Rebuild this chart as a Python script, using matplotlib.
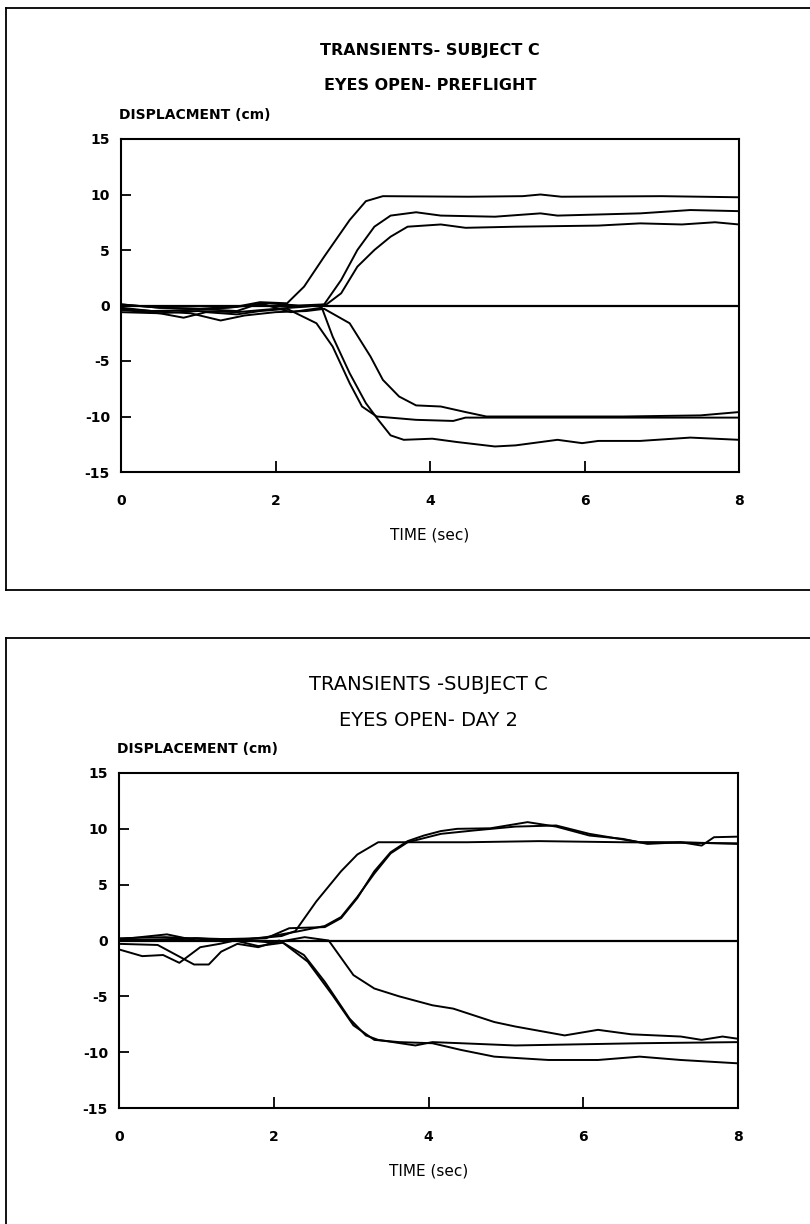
import matplotlib
matplotlib.use('Agg')
import matplotlib.pyplot as plt
from matplotlib.lines import Line2D

# ---- data (time in sec, displacement in cm) ----
# preflight panel
pre_a_t = [0, 0.5, 1.0, 1.5, 1.8, 2.15, 2.37, 2.63, 2.96, 3.17, 3.39, 4.5, 5.2, 5.43, 5.7, 7.0, 8.0]
pre_a_v = [0.1, -0.2, -0.3, -0.1, 0.3, 0.2, 1.7, 4.4, 7.7, 9.4, 9.85, 9.8, 9.85, 10.0, 9.8, 9.85, 9.75]
pre_b_t = [0, 0.4, 0.9, 1.4, 1.9, 2.3, 2.63, 2.85, 3.06, 3.28, 3.49, 3.82, 4.14, 4.84, 5.43, 5.65, 6.72, 7.37, 8.0]
pre_b_v = [-0.3, -0.5, -0.4, -0.2, 0.2, 0.0, 0.1, 2.3, 5.0, 7.1, 8.1, 8.4, 8.1, 8.0, 8.3, 8.1, 8.3, 8.6, 8.5]
pre_c_t = [0, 0.5, 1.0, 1.5, 2.0, 2.4, 2.66, 2.85, 3.06, 3.28, 3.49, 3.71, 4.14, 4.46, 5.11, 6.18, 6.72, 7.26, 7.69, 8.0]
pre_c_v = [-0.6, -0.7, -0.5, -0.6, -0.3, -0.1, 0.1, 1.1, 3.5, 5.0, 6.2, 7.1, 7.3, 7.0, 7.1, 7.2, 7.4, 7.3, 7.5, 7.3]
pre_d_t = [0, 0.5, 0.81, 1.1, 1.5, 1.8, 2.15, 2.53, 2.74, 2.96, 3.12, 3.31, 3.82, 4.3, 4.46, 5.0, 6.0, 7.0, 8.0]
pre_d_v = [-0.4, -0.7, -1.1, -0.6, -0.8, -0.5, -0.3, -1.6, -3.7, -7.0, -9.1, -10.0, -10.3, -10.4, -10.1, -10.1, -10.1, -10.1, -10.1]
pre_e_t = [0, 0.4, 0.9, 1.29, 1.6, 2.0, 2.4, 2.63, 2.96, 3.23, 3.39, 3.6, 3.82, 4.14, 4.46, 4.73, 5.5, 6.5, 7.5, 8.0]
pre_e_v = [-0.2, -0.5, -0.7, -1.35, -0.9, -0.6, -0.5, -0.3, -1.6, -4.6, -6.7, -8.2, -9.0, -9.1, -9.6, -10.0, -10.0, -10.0, -9.9, -9.6]
pre_f_t = [0, 0.5, 1.0, 1.5, 1.8, 2.2, 2.6, 2.74, 2.96, 3.17, 3.33, 3.49, 3.66, 4.03, 4.35, 4.84, 5.11, 5.65, 5.97, 6.18, 6.72, 7.37, 8.0]
pre_f_v = [0.1, -0.2, -0.3, -0.5, 0.2, -0.6, -0.2, -2.8, -6.1, -8.8, -10.3, -11.7, -12.1, -12.0, -12.3, -12.7, -12.6, -12.1, -12.4, -12.2, -12.2, -11.9, -12.1]

# day 2 panel
d2_g_t = [0, 0.6, 1.2, 1.8, 2.1, 2.28, 2.55, 2.87, 3.08, 3.35, 4.5, 5.43, 6.5, 8.0]
d2_g_v = [0.2, 0.3, 0.1, 0.2, 0.4, 0.85, 3.5, 6.2, 7.7, 8.8, 8.8, 8.9, 8.8, 8.7]
d2_h_t = [0, 0.62, 1.0, 1.5, 1.9, 2.2, 2.66, 2.87, 3.08, 3.30, 3.51, 3.73, 3.94, 4.16, 4.37, 4.80, 5.28, 5.65, 6.08, 6.51, 6.83, 7.26, 7.53, 7.69, 8.0]
d2_h_v = [0.1, 0.55, 0.0, 0.1, 0.2, 1.1, 1.2, 2.0, 3.8, 6.2, 7.9, 8.9, 9.4, 9.8, 10.0, 10.05, 10.6, 10.2, 9.4, 9.1, 8.65, 8.8, 8.5, 9.25, 9.3]
d2_i_t = [0, 0.5, 1.0, 1.5, 1.9, 2.3, 2.66, 2.87, 3.08, 3.30, 3.51, 3.73, 4.16, 4.58, 5.12, 5.65, 6.08, 6.73, 7.26, 8.0]
d2_i_v = [0.0, 0.1, 0.2, 0.0, 0.3, 0.8, 1.3, 2.1, 3.9, 6.0, 7.8, 8.8, 9.55, 9.85, 10.2, 10.3, 9.55, 8.8, 8.8, 8.65]
d2_j_t = [0, 0.5, 1.0, 1.5, 2.0, 2.4, 2.71, 3.03, 3.30, 3.62, 4.05, 4.32, 4.85, 5.12, 5.76, 6.19, 6.62, 7.26, 7.53, 7.80, 8.0]
d2_j_v = [0.1, 0.0, 0.2, 0.1, -0.2, 0.3, 0.0, -3.1, -4.3, -5.0, -5.8, -6.1, -7.3, -7.7, -8.5, -8.0, -8.4, -8.6, -8.9, -8.6, -8.8]
d2_k_t = [0, 0.5, 0.97, 1.16, 1.32, 1.53, 1.8, 2.07, 2.39, 2.66, 2.98, 3.19, 3.35, 3.83, 4.05, 4.42, 5.12, 6.73, 8.0]
d2_k_v = [-0.3, -0.4, -2.15, -2.15, -1.0, -0.3, -0.6, 0.0, -1.3, -3.7, -7.0, -8.5, -8.9, -9.4, -9.1, -9.2, -9.4, -9.2, -9.1]
d2_l_t = [0, 0.30, 0.57, 0.78, 1.05, 1.3, 1.5, 1.8, 2.12, 2.44, 2.76, 3.03, 3.30, 3.62, 4.05, 4.42, 4.85, 5.55, 6.19, 6.73, 7.26, 8.0]
d2_l_v = [-0.8, -1.4, -1.3, -2.0, -0.6, -0.3, 0.0, -0.5, -0.2, -1.9, -4.9, -7.6, -8.9, -9.1, -9.2, -9.8, -10.4, -10.7, -10.7, -10.4, -10.7, -11.0]

zero_t = [0, 8]
zero_v = [0, 0]

preflight = [(pre_a_t, pre_a_v), (pre_b_t, pre_b_v), (pre_c_t, pre_c_v),
             (pre_d_t, pre_d_v), (pre_e_t, pre_e_v), (pre_f_t, pre_f_v)]
day2 = [(d2_g_t, d2_g_v), (d2_h_t, d2_h_v), (d2_i_t, d2_i_v),
        (d2_j_t, d2_j_v), (d2_k_t, d2_k_v), (d2_l_t, d2_l_v)]

x_ticks = [0, 2, 4, 6, 8]
y_ticks = [-15, -10, -5, 0, 5, 10, 15]

W, H = 810, 1224

fig = plt.figure(figsize=(W / 100, H / 100), dpi=100)


def fx(px):
	return px / W


def fy(py):
	return 1 - py / H


def panel(rect, traces, title1, title2, ylabel, tsize, tweight, box_top, box_bottom):
	left, top, right, bottom = rect
	ax = fig.add_axes([fx(left), fy(bottom), fx(right - left), (bottom - top) / H])
	for t, v in traces:
		ax.plot(t, v, color='k', lw=1.4, solid_joinstyle='round')
	ax.plot(zero_t, zero_v, color='k', lw=1.6)
	ax.set_xlim(0, 8)
	ax.set_ylim(-15, 15)
	ax.set_xticks(x_ticks)
	ax.set_yticks(y_ticks)
	ax.set_xticklabels([str(v) for v in x_ticks], fontweight='bold', fontsize=10)
	ax.set_yticklabels([str(v) for v in y_ticks], fontweight='bold', fontsize=10)
	ax.tick_params(axis='x', direction='in', length=8, width=1.3, pad=16)
	ax.tick_params(axis='y', direction='in', length=7, width=1.3, pad=8)
	# only the inner ticks are drawn, the end ones sit on the frame
	for tk in ax.xaxis.get_major_ticks():
		if tk.get_loc() in (0, 8):
			tk.tick1line.set_visible(False)
	for tk in ax.yaxis.get_major_ticks():
		if tk.get_loc() in (-15, 15):
			tk.tick1line.set_visible(False)
	for s in ax.spines.values():
		s.set_linewidth(1.5)
	ax.set_xlabel('TIME (sec)', fontsize=11, labelpad=14)

	cx = (left + right) / 2
	fig.text(fx(cx), fy(top - 89), title1, ha='center', va='center', fontsize=tsize, fontweight=tweight)
	fig.text(fx(cx), fy(top - 53), title2, ha='center', va='center', fontsize=tsize, fontweight=tweight)
	fig.text(fx(left - 2), fy(top - 24), ylabel, ha='left', va='center', fontsize=10, fontweight='bold')

	# outer frame around the panel (runs off the right edge)
	fig.add_artist(Line2D([fx(6), fx(6)], [fy(box_top), fy(box_bottom)], color='k', lw=1.3))
	fig.add_artist(Line2D([fx(6), 1.0], [fy(box_top), fy(box_top)], color='k', lw=1.3))
	if box_bottom < H:
		fig.add_artist(Line2D([fx(6), 1.0], [fy(box_bottom), fy(box_bottom)], color='k', lw=1.3))
	return ax


panel((121, 139, 739, 472), preflight, 'TRANSIENTS- SUBJECT C', 'EYES OPEN- PREFLIGHT',
      'DISPLACMENT (cm)', 11.5, 'bold', 8, 590)
panel((119, 773, 738, 1108), day2, 'TRANSIENTS -SUBJECT C', 'EYES OPEN- DAY 2',
      'DISPLACEMENT (cm)', 14, 'normal', 638, H + 5)

plt.savefig('out.png', dpi=100)
